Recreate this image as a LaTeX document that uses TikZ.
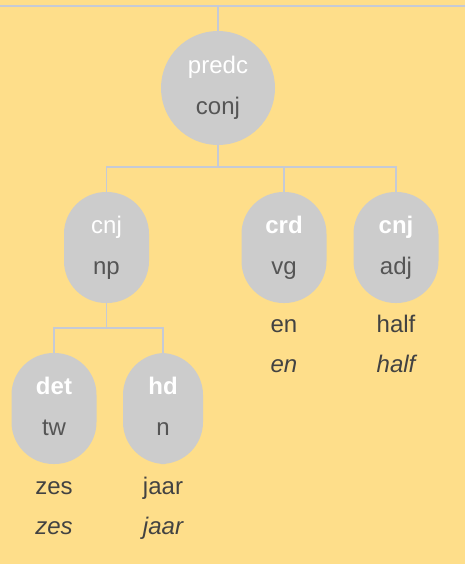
\documentclass[tikz,border=0pt]{standalone}
\usepackage{fontspec}
\setmainfont{Liberation Sans}
\definecolor{paper}{HTML}{FEDE8A}
\definecolor{bubble}{HTML}{CCCCCC}
\definecolor{wire}{HTML}{C5CAD6}
\definecolor{postag}{HTML}{555555}
\definecolor{word}{HTML}{424242}
\tikzset{
  x=0.75pt, y=-0.75pt,
  edge/.style={draw=wire, line width=0.8pt},
  pill/.style={fill=bubble, draw=none, rounded corners=31.5pt,
    minimum width=63.75pt, minimum height=83.25pt, inner sep=0pt},
  rootdot/.style={circle, fill=bubble, draw=none, minimum size=85.5pt, inner sep=0pt},
  rel/.style={anchor=base, text=white, font=\fontsize{18}{21}\selectfont},
  relb/.style={rel, font=\fontsize{18}{21}\selectfont\bfseries},
  postext/.style={anchor=base, text=postag, font=\fontsize{18}{21}\selectfont},
  tok/.style={anchor=base, text=word, font=\fontsize{18}{21}\selectfont},
  lem/.style={anchor=base, text=word, font=\fontsize{18}{21}\selectfont\itshape},
}
\begin{document}
\begin{tikzpicture}
  % page
  \fill[paper] (0,0) rectangle (465,564);
  \useasboundingbox (0,0) rectangle (465,564);

  % top rule and the stem into the root
  \coordinate (ruleL) at (0,6);
  \coordinate (ruleR) at (465,6);
  \coordinate (stem) at (218,6);
  \draw[edge] (ruleL) -- (ruleR);

  % tree nodes
  \node[rootdot] (root) at (218,88) {};
  \node[pill] (np)  at (106.5,247.5) {};
  \node[pill] (vg)  at (284,247.5) {};
  \node[pill] (adj) at (396,247.5) {};
  \node[pill] (tw)  at (54,408.5) {};
  \node[pill, minimum width=60pt] (n) at (163,408.5) {};

  % junctions of the branches
  \coordinate (bar1) at (218,167);
  \coordinate (bar2) at (106.5,328);

  % connectors
  \draw[edge] (stem) -- (root.north);
  \draw[edge] (root.south) -- (bar1) -| (np.north);
  \draw[edge] (bar1) -| (adj.north);
  \draw[edge] (bar1) -| (vg.north);
  \draw[edge] (np.south) -- (bar2) -| (tw.north);
  \draw[edge] (bar2) -| (n.north);

  % labels inside the nodes
  \node[rel]     (rootrel) at (218,73) {predc};
  \node[postext] (rootpos) at (218,114) {conj};
  \node[rel]     (nprel)   at (106.5,233) {cnj};
  \node[postext] (nppos)   at (106.5,274) {np};
  \node[relb]    (vgrel)   at (284,233) {crd};
  \node[postext] (vgpos)   at (284,274) {vg};
  \node[relb]    (adjrel)  at (396,233) {cnj};
  \node[postext] (adjpos)  at (396,274) {adj};
  \node[relb]    (twrel)   at (54,394) {det};
  \node[postext] (twpos)   at (54,435) {tw};
  \node[relb]    (nrel)    at (163,394) {hd};
  \node[postext] (npos)    at (163,435) {n};

  % words and lemmas under the leaves
  \node[tok] (vgtok)  at (284,332) {en};
  \node[lem] (vglem)  at (284,372) {en};
  \node[tok] (adjtok) at (396,332) {half};
  \node[lem] (adjlem) at (396,372) {half};
  \node[tok] (twtok)  at (54,494) {zes};
  \node[lem] (twlem)  at (54,534) {zes};
  \node[tok] (ntok)   at (163,494) {jaar};
  \node[lem] (nlem)   at (163,534) {jaar};
\end{tikzpicture}
\end{document}
